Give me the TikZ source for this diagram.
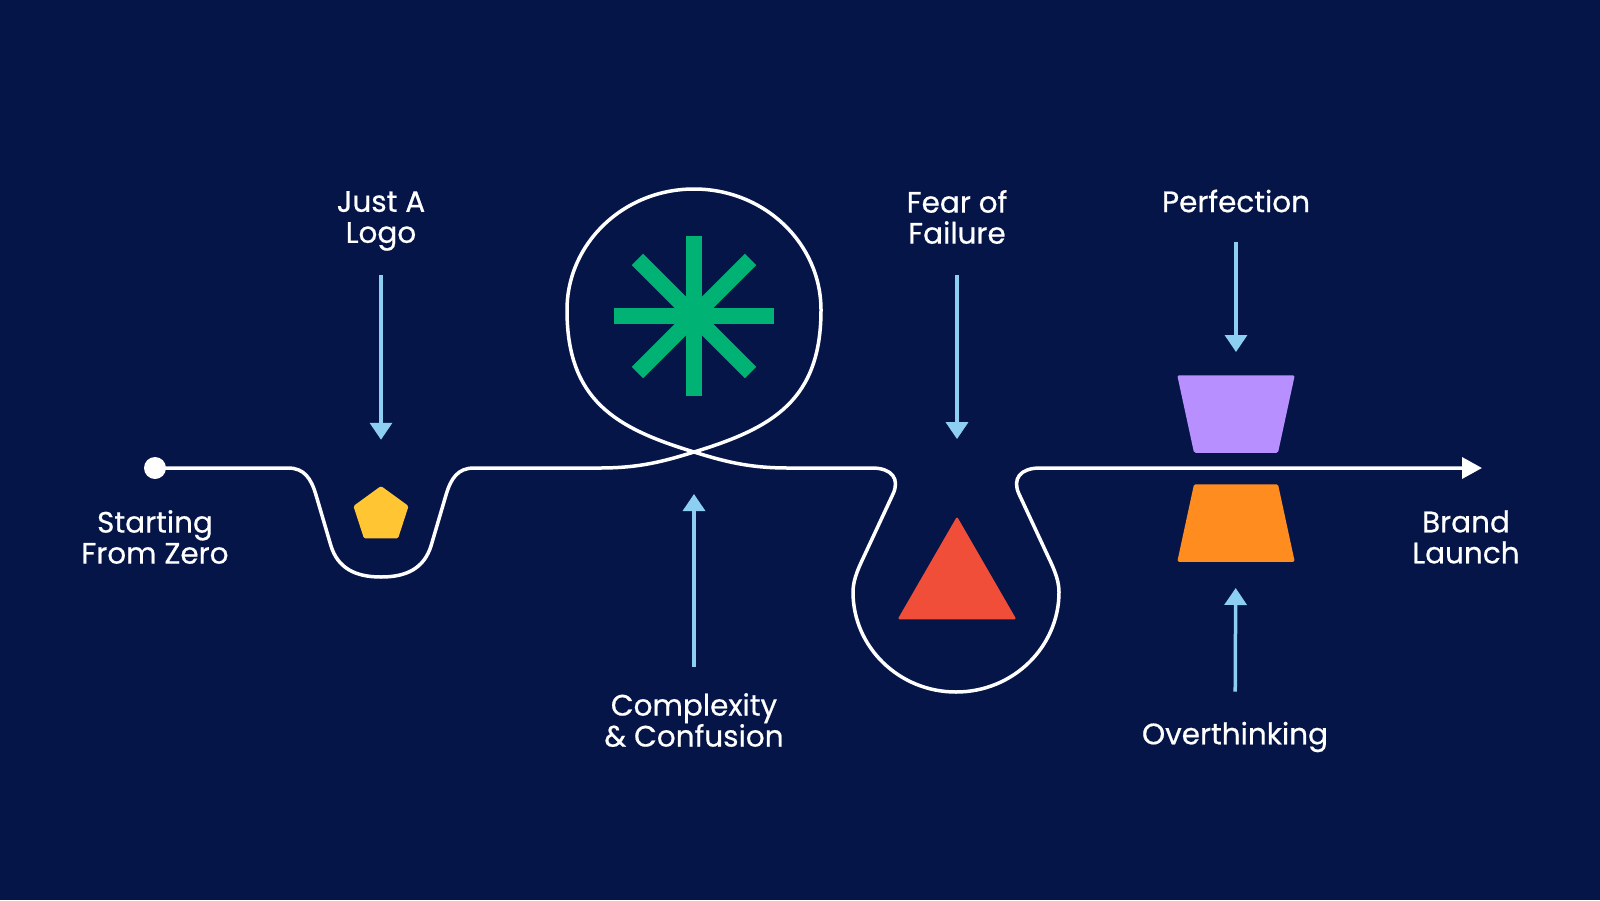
\documentclass[tikz,border=0pt]{standalone}
\usepackage{fontspec}
\setmainfont{Poppins}[FakeBold=0.6]
\usetikzlibrary{positioning, arrows.meta, shapes.geometric}
\definecolor{navy}{HTML}{061548}
\definecolor{skyb}{HTML}{8DCFF2}
\definecolor{gem}{HTML}{00B274}
\definecolor{sun}{HTML}{FFC533}
\definecolor{ember}{HTML}{F04E38}
\definecolor{lilac}{HTML}{B88FFF}
\definecolor{tang}{HTML}{FF8C1F}
\tikzset{
  lbl/.style={text=white, align=center, inner sep=0pt,
              font=\fontsize{29.5}{31}\selectfont},
  road/.style={draw=white, line width=3.5pt, line join=round},
  parr/.style={draw=skyb, line width=3.5pt, -{Triangle[length=17pt, width=22pt]}},
  dot/.style={circle, fill=white, inner sep=0pt, minimum size=22pt},
  pent/.style={regular polygon, regular polygon sides=5, fill=sun,
               inner sep=0pt, minimum size=58pt, rounded corners=1.5pt},
  tri/.style={regular polygon, regular polygon sides=3, fill=ember,
              inner sep=0pt, minimum size=137pt, rounded corners=1.5pt},
  spoke/.style={draw=gem, line width=16pt},
}

\begin{document}
\begin{tikzpicture}[x=1pt, y=-1pt]
  \fill[navy] (0,0) rectangle (1600,900);

  % shapes on the road
  \node[dot](s) at (155,468){};
  \node[pent](logo) at (381,515){};
  \coordinate (ast) at (694,316);
  \coordinate (cross) at (694,452);
  \node[tri](fail) at (957,585){};
  \coordinate (perf) at (1236,414);
  \coordinate (over) at (1236,523);
  \coordinate (end) at (1482,468);

  \foreach \a in {0,45,90,135}
    \draw[spoke] (ast) ++(\a:80) -- ++(\a+180:160);
  \fill[lilac, rounded corners=1.5pt] (perf) ++(-58.75,-38.75) -- ++(117.5,0)
    -- ++(-16.75,77.5) -- ++(-84,0) -- cycle;
  \fill[tang, rounded corners=1.5pt] (over) ++(-42,-38.75) -- ++(84,0)
    -- ++(16.75,77.5) -- ++(-117.5,0) -- cycle;

  % the road
  \draw[road, -{Triangle[length=20pt, width=21pt]}] (s.center) -- (288,468)
    .. controls (304,468) and (311,478) .. (316,495) -- (331,546)
    .. controls (338,568) and (355,577) .. (381,577)
    .. controls (407,577) and (424,568) .. (431,546) -- (446,495)
    .. controls (451,478) and (458,468) .. (474,468) -- (600,468)
    .. controls (640,468) and (665,461) .. (cross)
    .. controls (773,428) and (821,400) .. (821,310)
    .. controls (821,243) and (764,189) .. (694,189)
    .. controls (624,189) and (567,243) .. (567,310)
    .. controls (567,400) and (615,428) .. (cross)
    .. controls (723,461) and (748,468) .. (788,468) -- (872,468)
    .. controls (892,468) and (900,479) .. (893,494) -- (866,552)
    .. controls (860,565) and (853,578) .. (853,592)
    .. controls (853,647) and (899,692) .. (956,692)
    .. controls (1013,692) and (1059,647) .. (1059,592)
    .. controls (1059,578) and (1052,565) .. (1046,552) -- (1019,494)
    .. controls (1012,479) and (1020,468) .. (1040,468) -- (end);

  % labels
  \node[lbl](t0) at (155,537){Starting\\From Zero};
  \node[lbl](t1) at (381,221){Just A\\Logo};
  \node[lbl](t2) at (694,720){Complexity\\\& Confusion};
  \node[lbl](t3) at (957,217){Fear of\\Failure};
  \node[lbl](t4) at (1236,201){Perfection};
  \node[lbl](t5) at (1235,737){Overthinking};
  \node[lbl](t6) at (1466,537){Brand\\Launch};

  % pointers
  \draw[parr, shorten <=24pt, shorten >=46pt](t1)--(logo);
  \draw[parr, shorten <=26pt, shorten >=42pt](t2)--(cross);
  \draw[parr, shorten <=31pt, shorten >=77pt](t3)--(fail);
  \draw[parr, shorten <=29pt, shorten >=62pt](t4)--(perf);
  \draw[parr, shorten <=30pt, shorten >=65pt](t5)--(over);
\end{tikzpicture}
\end{document}
